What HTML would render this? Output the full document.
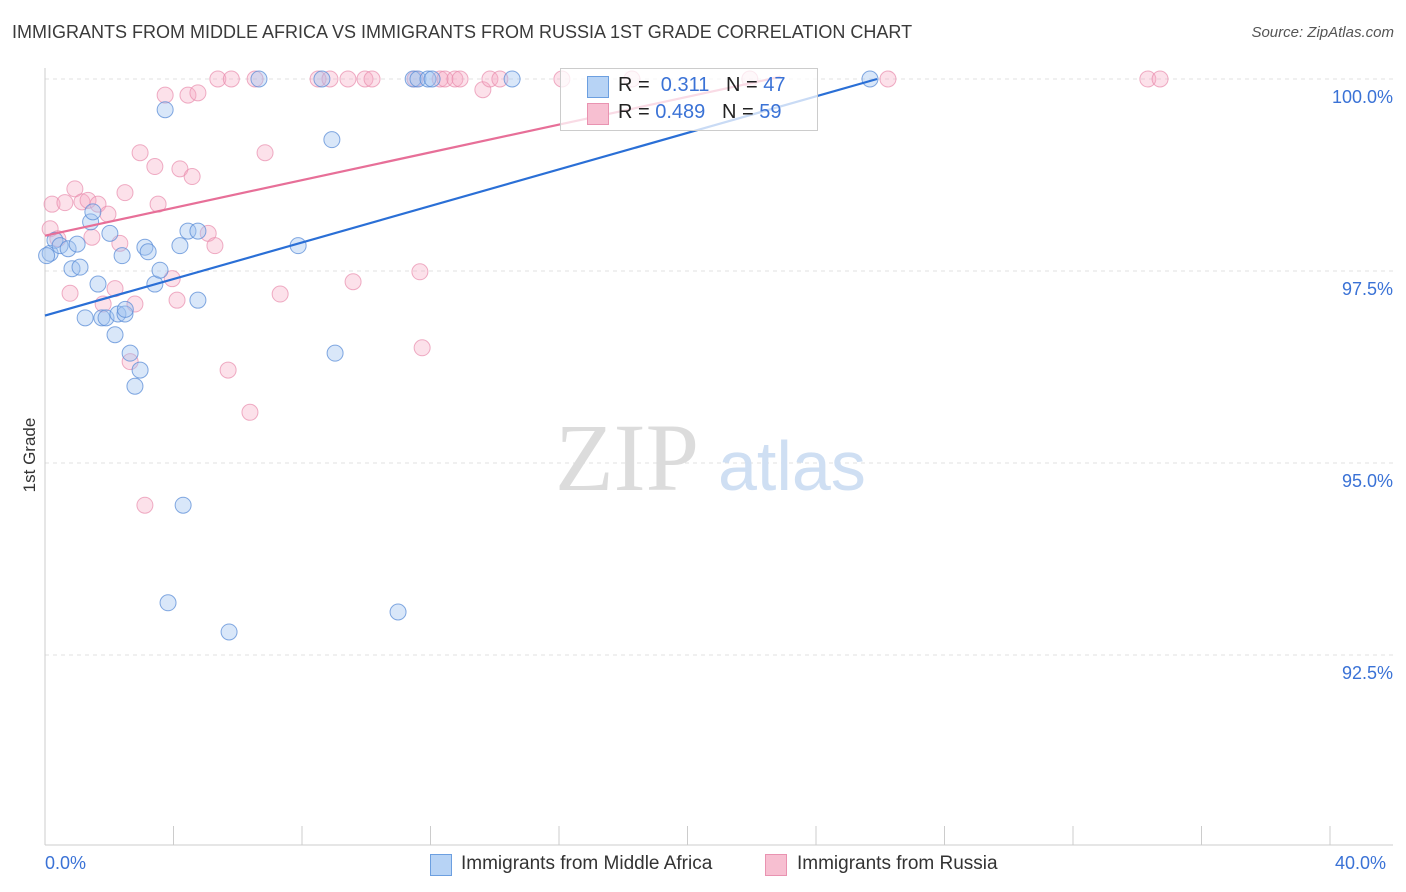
<!DOCTYPE html>
<html><head><meta charset="utf-8"><style>
body{margin:0;background:#fff;font-family:"Liberation Sans",sans-serif;}
#wrap{position:relative;width:1406px;height:892px;overflow:hidden;}
.t{position:absolute;white-space:nowrap;}
</style></head><body>
<div id="wrap">
<div class="t" style="left:12px;top:22px;font-size:18px;color:#3a3a3a;">IMMIGRANTS FROM MIDDLE AFRICA VS IMMIGRANTS FROM RUSSIA 1ST GRADE CORRELATION CHART</div>
<div class="t" style="right:12px;top:24px;font-size:15px;color:#555;font-style:italic;">Source: ZipAtlas.com</div>
<div class="t" style="left:-10px;top:445px;font-size:17px;color:#333;transform:rotate(-90deg);transform-origin:center;width:80px;text-align:center;">1st Grade</div>
<svg id="plot" width="1406" height="892" style="position:absolute;left:0;top:0"></svg>
<div style="position:absolute;left:560px;top:68px;width:256px;height:61px;border:1px solid #ccc;background:rgba(255,255,255,0.75);"></div>
<div style="position:absolute;left:587px;top:76px;width:20px;height:20px;background:#b7d3f5;border:1px solid #6c9fe0;"></div>
<div style="position:absolute;left:587px;top:103px;width:20px;height:20px;background:#f7bfd1;border:1px solid #e993b1;"></div>
<div class="t" style="left:618px;top:74px;font-size:20px;color:#222;">R = &nbsp;<span style="color:#3a72d6">0.311</span> &nbsp; N = <span style="color:#3a72d6">47</span></div>
<div class="t" style="left:618px;top:101px;font-size:20px;color:#222;">R = <span style="color:#3a72d6">0.489</span> &nbsp; N = <span style="color:#3a72d6">59</span></div>
<div style="position:absolute;left:430px;top:854px;width:20px;height:20px;background:#b7d3f5;border:1px solid #6c9fe0;"></div>
<div class="t" style="left:461px;top:853px;font-size:19px;color:#333;">Immigrants from Middle Africa</div>
<div style="position:absolute;left:765px;top:854px;width:20px;height:20px;background:#f7bfd1;border:1px solid #e993b1;"></div>
<div class="t" style="left:797px;top:853px;font-size:19px;color:#333;">Immigrants from Russia</div>
<div class="t" style="left:45px;top:853px;font-size:18px;color:#3a72d6;">0.0%</div>
<div class="t" style="left:1335px;top:853px;font-size:18px;color:#3a72d6;">40.0%</div>
</div>
<script>
const yTicks=[100,97.5,95,92.5];
const yTickLabels=["100.0%","97.5%","95.0%","92.5%"];
const blueX=[0.16,0.31,0.47,0.72,0.84,1.09,1.25,1.42,1.49,1.65,1.77,1.90,2.02,2.18,2.27,2.40,2.49,2.65,2.80,2.96,3.11,3.21,3.42,3.58,3.74,3.83,4.20,4.30,4.45,4.76,4.76,5.73,6.66,7.88,8.62,8.93,9.03,10.99,11.46,11.61,11.92,12.05,14.54,25.68,0.05,1.00,2.50];
const blueY=[97.73,97.90,97.83,97.79,97.53,97.55,96.89,98.14,98.27,97.33,96.89,96.89,97.99,96.67,96.94,97.70,96.94,96.43,96.00,96.21,97.81,97.75,97.33,97.51,99.60,93.18,97.83,94.45,98.02,98.02,97.12,92.80,100,97.83,100,99.21,96.43,93.06,100,100,100,100,100,100,97.70,97.85,97.00];
const pinkX=[0.16,0.22,0.40,0.62,0.78,0.93,1.15,1.34,1.46,1.65,1.81,1.96,2.18,2.33,2.49,2.65,2.80,2.96,3.11,3.42,3.52,3.74,3.96,4.11,4.20,4.45,4.58,4.76,5.08,5.29,5.38,5.70,5.80,6.38,6.54,6.85,7.32,8.50,8.87,9.43,9.59,9.96,10.18,11.52,11.67,11.74,12.30,12.45,12.76,12.92,13.63,13.85,14.16,16.09,18.27,21.94,26.24,34.33,34.71];
const pinkY=[98.05,98.37,97.92,98.39,97.21,98.57,98.40,98.42,97.94,98.37,97.07,98.24,97.27,97.86,98.52,96.32,97.07,99.04,94.45,98.86,98.37,99.79,97.40,97.12,98.83,99.79,98.73,99.82,97.99,97.83,100,96.21,100,95.66,100,99.04,97.20,100,100,100,97.36,100,100,100,97.49,96.50,100,100,100,100,99.86,100,100,100,100,100,100,100,100];
const blueTrend=[[0,96.92],[25.9,100]];
const pinkTrend=[[0,97.96],[22.9,100.03]];
const X=v=>45+v*32.125, Y=v=>79+(100-v)*76.8;
const s=document.getElementById('plot'),NS='http://www.w3.org/2000/svg';
function el(t,a,p){const e=document.createElementNS(NS,t);for(const k in a)e.setAttribute(k,a[k]);(p||s).appendChild(e);return e;}
yTicks.forEach((t,i)=>{const g=el('line',{x1:45,x2:1393,y1:Y(t),y2:Y(t),stroke:'#e0e0e0','stroke-dasharray':'4,4'});

const tx=el('text',{x:1393,y:Y(t)+24,'text-anchor':'end','font-size':18,fill:'#3a72d6','font-family':'Liberation Sans, sans-serif'});tx.textContent=yTickLabels[i];
});
const ax=el('line',{x1:45,x2:45,y1:68,y2:845,stroke:'#ccc'});
const bx=el('line',{x1:45,x2:1393,y1:845,y2:845,stroke:'#ccc'});
for(let i=0;i<=10;i++){const tk=el('line',{x1:X(i*4),x2:X(i*4),y1:826,y2:845,stroke:'#ccc'});}
const wm=el('text',{x:555,y:490,'font-size':96,fill:'#dcdcdc','font-family':'Liberation Serif, serif'});wm.textContent='ZIP';
const wm2=el('text',{x:718,y:490,'font-size':70,fill:'#cfdff3','font-family':'Liberation Sans, sans-serif'});wm2.textContent='atlas';
pinkX.forEach((x,i)=>{const c=el('circle',{cx:X(x),cy:Y(pinkY[i]),r:8,fill:'rgba(245,170,195,0.35)',stroke:'rgba(232,140,172,0.7)','stroke-width':1});
});
blueX.forEach((x,i)=>{const c=el('circle',{cx:X(x),cy:Y(blueY[i]),r:8,fill:'rgba(160,196,240,0.4)',stroke:'rgba(90,140,215,0.75)','stroke-width':1});
});
const l1=el('line',{x1:X(blueTrend[0][0]),y1:Y(blueTrend[0][1]),x2:X(blueTrend[1][0]),y2:Y(blueTrend[1][1]),stroke:'#2a6fd6','stroke-width':2.2});

const l2=el('line',{x1:X(pinkTrend[0][0]),y1:Y(pinkTrend[0][1]),x2:X(pinkTrend[1][0]),y2:Y(pinkTrend[1][1]),stroke:'#e76f98','stroke-width':2.2});

</script>
</body></html>
